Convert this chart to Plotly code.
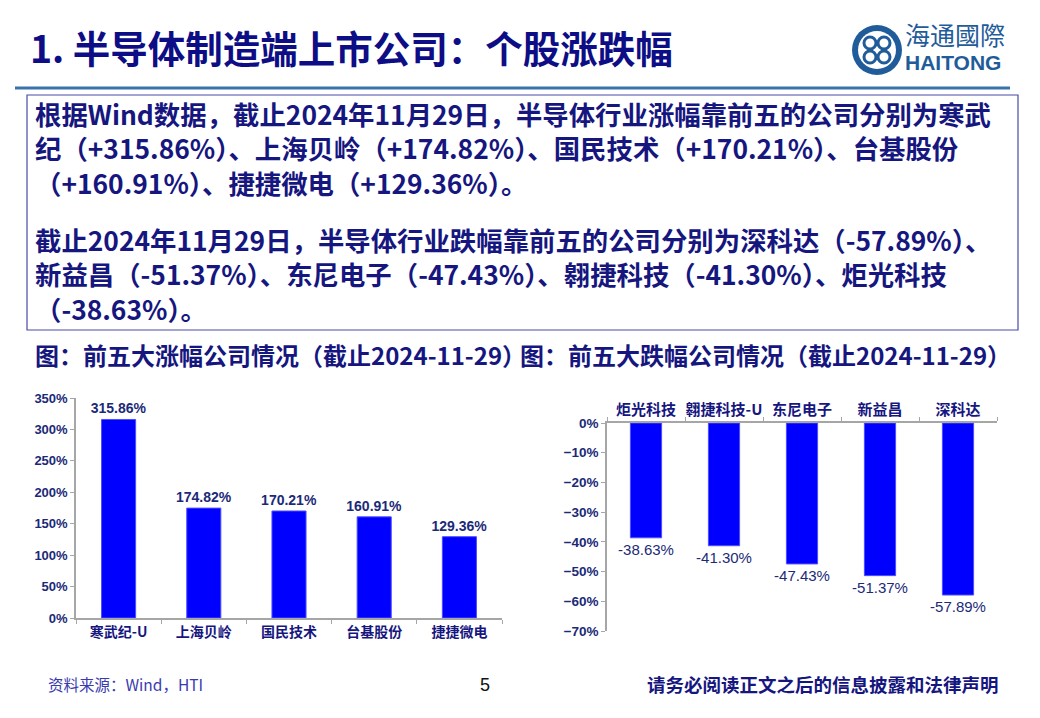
import plotly.graph_objects as go

W, H = 1040, 718

up_names = ["寒武纪-U", "上海贝岭", "国民技术", "台基股份", "捷捷微电"]
up_values = [315.86, 174.82, 170.21, 160.91, 129.36]

down_names = ["炬光科技", "翱捷科技-U", "东尼电子", "新益昌", "深科达"]
down_values = [-38.63, -41.30, -47.43, -51.37, -57.89]

title_text = "1. 半导体制造端上市公司：个股涨跌幅"
para_up = [
    "根据Wind数据，截止2024年11月29日，半导体行业涨幅靠前五的公司分别为寒武",
    "纪（+315.86%）、上海贝岭（+174.82%）、国民技术（+170.21%）、台基股份",
    "（+160.91%）、捷捷微电（+129.36%）。",
]
para_down = [
    "截止2024年11月29日，半导体行业跌幅靠前五的公司分别为深科达（-57.89%）、",
    "新益昌（-51.37%）、东尼电子（-47.43%）、翱捷科技（-41.30%）、炬光科技",
    "（-38.63%）。",
]
caption_left = "图：前五大涨幅公司情况（截止2024-11-29）"
caption_right = "图：前五大跌幅公司情况（截止2024-11-29）"
source_text = "资料来源：Wind，HTI"
page_no = "5"
disclaimer = "请务必阅读正文之后的信息披露和法律声明"

NAVY = "#16167f"
TICK = "#1b2a78"
BLUE = "#0000ff"
AXIS = "#a6a6a6"
CJK = "Noto Sans CJK SC"
LAT = "Liberation Sans"

# the page body adds an 8px margin around the figure
OFF = 8


def px(x):
    return (x - OFF) / W


def py(y):
    return 1 - (y - OFF) / H


fig = go.Figure()

fig.add_trace(
    go.Bar(
        x=up_names,
        y=up_values,
        marker=dict(color=BLUE, line=dict(color="#4d4dff", width=1)),
        width=0.4,
        texttemplate="<b>%{y:.2f}%</b>",
        textposition="outside",
        constraintext="none",
        textfont=dict(family=LAT, size=14, color=TICK),
        cliponaxis=False,
        xaxis="x",
        yaxis="y",
    )
)
fig.add_trace(
    go.Bar(
        x=down_names,
        y=down_values,
        marker=dict(color=BLUE, line=dict(color="#4d4dff", width=1)),
        width=0.4,
        texttemplate="%{y:.2f}%",
        textposition="outside",
        constraintext="none",
        textfont=dict(family=LAT, size=15, color=TICK),
        cliponaxis=False,
        xaxis="x2",
        yaxis="y2",
    )
)

axis_common = dict(
    showline=True,
    linecolor=AXIS,
    linewidth=1.5,
    ticks="outside",
    tickcolor=AXIS,
    ticklen=4,
    showgrid=False,
    zeroline=False,
    fixedrange=True,
    automargin=False,
)

fig.update_layout(
    width=W,
    height=H,
    margin=dict(l=0, r=0, t=0, b=0, autoexpand=False),
    paper_bgcolor="white",
    plot_bgcolor="white",
    showlegend=False,
    xaxis=dict(
        domain=[px(76), px(502)],
        anchor="y",
        tickson="boundaries",
        tickangle=0,
        tickfont=dict(family=CJK, size=14, color=NAVY, weight="bold"),
        **axis_common,
    ),
    yaxis=dict(
        domain=[py(618), py(398)],
        anchor="x",
        range=[0, 350],
        dtick=50,
        ticksuffix="%",
        tickfont=dict(family=LAT, size=13, color=TICK, weight="bold"),
        **axis_common,
    ),
    xaxis2=dict(
        domain=[px(607), px(997)],
        anchor="y2",
        side="top",
        tickson="boundaries",
        tickangle=0,
        tickfont=dict(family=CJK, size=15, color=NAVY, weight="bold"),
        **axis_common,
    ),
    yaxis2=dict(
        domain=[py(631), py(423)],
        anchor="x2",
        range=[-70, 0],
        dtick=10,
        ticksuffix="%",
        tickfont=dict(family=LAT, size=13.5, color=TICK, weight="bold"),
        **axis_common,
    ),
)

annotations = []


def note(x, y, text, size, color, xanchor="left", family=CJK, bold=True):
    annotations.append(
        dict(
            x=px(x),
            y=py(y),
            xref="paper",
            yref="paper",
            text=text,
            showarrow=False,
            xanchor=xanchor,
            yanchor="middle",
            align="left",
            font=dict(family=family, size=size, color=color, weight="bold" if bold else "normal"),
        )
    )


note(28, 47, title_text, 37.5, "#0d0d86")

note(33, 148, "<br>".join(para_up), 26.4, NAVY)
note(33, 274, "<br>".join(para_down), 26.4, NAVY)

note(33, 354, caption_left, 24, NAVY)
note(518, 354, caption_right, 24, NAVY)

note(46, 684, source_text, 15.5, "#3a3ab0", bold=False)
note(485, 685, page_no, 18, "#111111", xanchor="center", family=LAT, bold=False)
note(1001, 684, disclaimer, 18.5, NAVY, xanchor="right")

# logo text
note(903, 34, "海通國際", 25, "#1f5c99", bold=False)
note(903, 63, "HAITONG", 21, "#1f5c99", family=LAT)

fig.update_layout(annotations=annotations)

shapes = [
    # title underline
    dict(type="line", xref="paper", yref="paper", x0=px(15), x1=px(1010), y0=py(88), y1=py(88),
         line=dict(color="#3a72ad", width=3)),
    # text frame
    dict(type="rect", xref="paper", yref="paper", x0=px(27), x1=px(1018), y0=py(95), y1=py(330),
         line=dict(color="#4a4aa8", width=1.2)),
    # logo
    dict(type="circle", xref="paper", yref="paper", x0=px(852), x1=px(902), y0=py(25), y1=py(75),
         fillcolor="#1f5c99", line=dict(width=0)),
    dict(type="circle", xref="paper", yref="paper", x0=px(858), x1=px(896), y0=py(31), y1=py(69),
         fillcolor="white", line=dict(width=0)),
]
for cx, cy in [(870, 43), (884, 43), (870, 57), (884, 57)]:
    shapes.append(
        dict(type="circle", xref="paper", yref="paper", x0=px(cx - 6), x1=px(cx + 6),
             y0=py(cy - 6), y1=py(cy + 6), fillcolor="white",
             line=dict(color="#1f5c99", width=3))
    )
fig.update_layout(shapes=shapes)

fig.write_html("out.html")
